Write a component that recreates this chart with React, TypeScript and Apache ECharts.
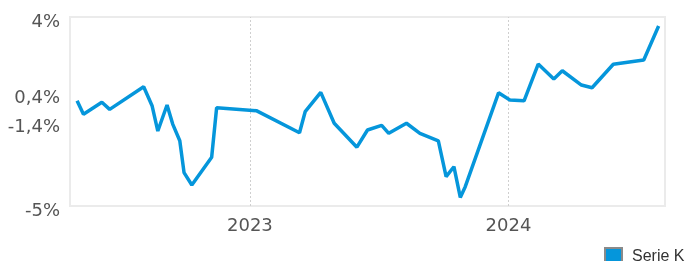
import React, { useEffect, useRef } from "react";
import * as echarts from "echarts";

const dates: string[] = [
  "2022-05-02", "2022-05-11", "2022-06-06", "2022-06-17", "2022-08-04", "2022-08-16",
  "2022-08-24", "2022-09-06", "2022-09-14", "2022-09-24", "2022-09-30", "2022-10-11",
  "2022-11-08", "2022-11-15", "2023-01-10", "2023-03-12", "2023-03-20", "2023-04-11",
  "2023-04-30", "2023-06-01", "2023-06-16", "2023-07-06", "2023-07-16", "2023-08-10",
  "2023-08-29", "2023-09-24", "2023-10-05", "2023-10-16", "2023-10-25", "2023-11-01",
  "2023-12-18", "2024-01-03", "2024-01-23", "2024-02-12", "2024-03-05", "2024-03-17",
  "2024-04-13", "2024-04-28", "2024-05-28", "2024-07-10", "2024-07-31",
];

const values: number[] = [
  0.01, -0.63, -0.06, -0.4, 0.68, -0.24,
  -1.43, -0.19, -1.1, -1.89, -3.41, -4.0,
  -2.68, -0.32, -0.46, -1.51, -0.51, 0.41,
  -1.06, -2.2, -1.38, -1.16, -1.54, -1.06,
  -1.54, -1.9, -3.6, -3.13, -4.59, -4.08,
  0.39, 0.05, 0.01, 1.76, 1.05, 1.44,
  0.76, 0.63, 1.75, 1.95, 3.57,
];

const yTicks: number[] = [-5, -1.4, 0.4, 4];
const yearTicks: string[] = ["2023-01-01", "2024-01-01"];
const xRange: string[] = ["2022-04-22", "2024-08-09"];
const seriesName = "Serie K";

const ts = (d: string) => new Date(d + "T00:00:00Z").getTime();

export default function App() {
  const ref = useRef<HTMLDivElement>(null);

  useEffect(() => {
    if (!ref.current) return;
    const chart = echarts.init(ref.current, undefined, { renderer: "svg" });
    const yearTs = yearTicks.map(ts);
    chart.setOption({
      animation: false,
      grid: {
        left: 70,
        right: 21,
        top: 17,
        bottom: 55,
        show: true,
        borderColor: "#ebebeb",
        borderWidth: 2,
        backgroundColor: "transparent",
      },
      legend: {
        show: true,
        left: 604,
        top: 247,
        padding: 0,
        itemWidth: 17,
        itemHeight: 15,
        icon: "rect",
        data: [{ name: seriesName, itemStyle: { color: "#0596db", borderColor: "#8a8a8a", borderWidth: 2 } }],
        textStyle: {
          fontFamily: "Liberation Sans, Arial, sans-serif",
          fontSize: 16,
          color: "#333",
          padding: [0, 0, 0, 5],
        },
      },
      xAxis: {
        type: "value",
        min: ts(xRange[0]),
        max: ts(xRange[1]),
        axisLine: { show: false },
        axisTick: { show: false },
        splitLine: { show: false },
        axisLabel: {
          customValues: yearTs,
          formatter: (v: number) => String(new Date(v).getUTCFullYear()),
          fontFamily: "DejaVu Sans, Verdana, sans-serif",
          fontSize: 18,
          color: "#555",
          margin: 9,
        },
      },
      yAxis: {
        type: "value",
        min: -5,
        max: 4,
        axisLine: { show: false },
        axisTick: { show: false },
        splitLine: { show: false },
        axisLabel: {
          customValues: yTicks,
          formatter: (v: number) => {
            const t = String(v).replace(".", ",") + "%";
            return v === -1.4 ? "{lift|" + t + "}" : "{base|" + t + "}";
          },
          fontFamily: "DejaVu Sans, Verdana, sans-serif",
          fontSize: 18,
          color: "#555",
          margin: 10,
          rich: {
            base: {
              fontFamily: "DejaVu Sans, Verdana, sans-serif",
              fontSize: 18,
              color: "#555",
              padding: [7, 0, 0, 0],
            },
            lift: {
              fontFamily: "DejaVu Sans, Verdana, sans-serif",
              fontSize: 18,
              color: "#555",
              padding: [0, 0, 10, 0],
            },
          },
        },
      },
      series: [
        {
          name: seriesName,
          type: "line",
          data: dates.map((d, i) => [ts(d), values[i]]),
          showSymbol: false,
          symbol: "none",
          lineStyle: { color: "#0596db", width: 3.5 },
          itemStyle: { color: "#0596db" },
          markLine: {
            silent: true,
            symbol: "none",
            label: { show: false },
            lineStyle: { color: "#cfcfcf", type: [2, 2], width: 1 },
            data: yearTs.map((t) => ({ xAxis: t })),
            z: 1,
          },
        },
      ],
    });
    return () => chart.dispose();
  }, []);

  return (
    <div
      ref={ref}
      style={{ position: "fixed", left: 0, top: 0, width: 686, height: 261 }}
    />
  );
}
